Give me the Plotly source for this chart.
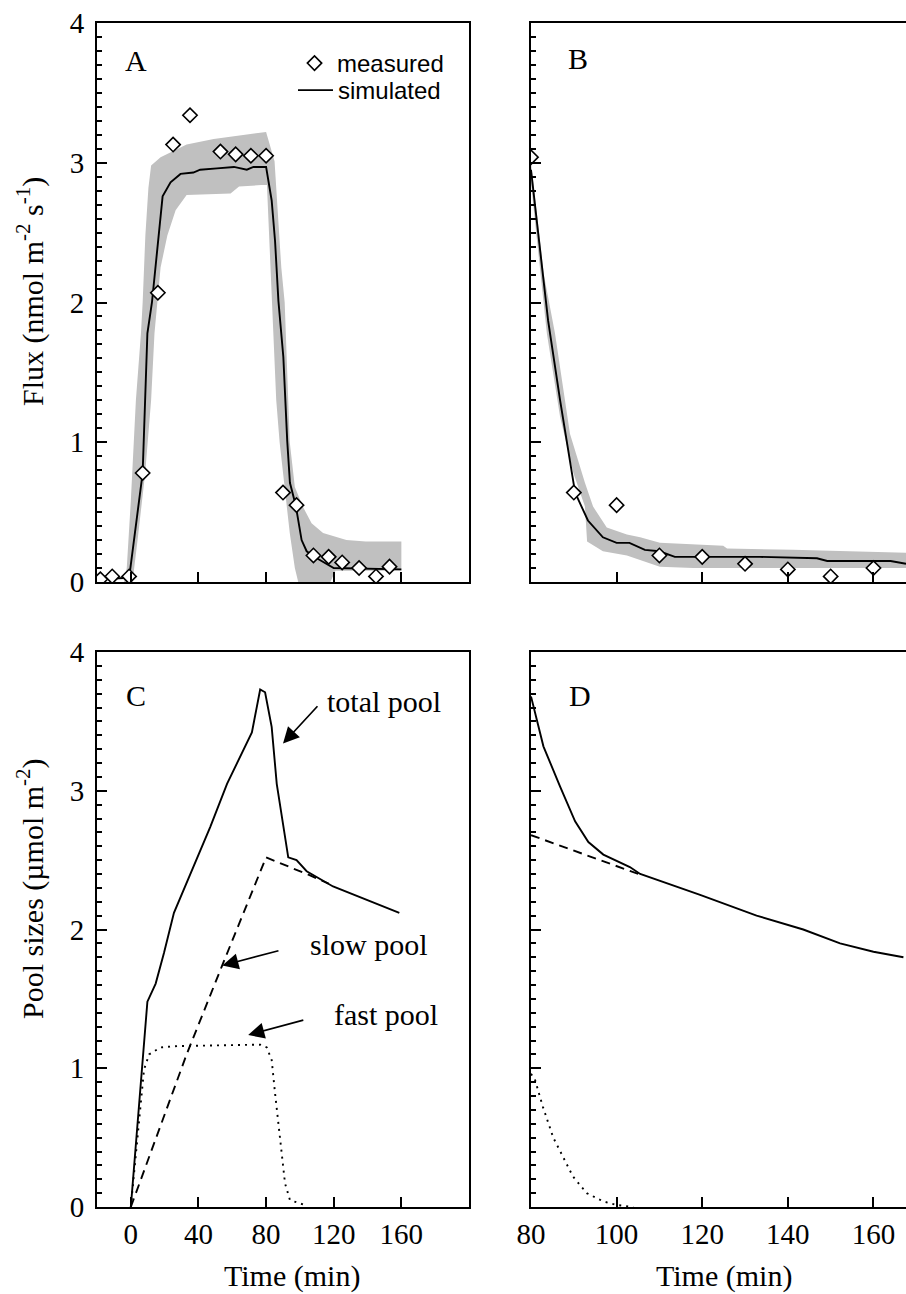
import plotly.graph_objects as go

# ---------------- Panel A: flux during and after labelling ----------------
meas_a_t = [-18, -11, -1, 7, 16, 25, 35, 53, 62, 71, 80, 90, 98, 108, 117, 125, 135, 145, 153]
meas_a_v = [0.02, 0.04, 0.04, 0.78, 2.07, 3.13, 3.34, 3.08, 3.06, 3.05, 3.05, 0.64, 0.55, 0.19, 0.18, 0.14, 0.10, 0.04, 0.11]

sim_a_t = [-20, -1, 7, 9.8, 12.5, 18.8, 23.5, 29.4, 37, 41, 51, 61, 68.6, 72.5, 80, 83.3, 85.3,
           87.3, 90.2, 92.5, 94.1, 97.5, 101, 104, 110, 120, 160]
sim_a_v = [0.02, 0.03, 0.78, 1.78, 2.0, 2.76, 2.86, 2.92, 2.93, 2.95, 2.96, 2.97, 2.95, 2.97, 2.97,
           2.73, 2.44, 2.01, 1.61, 1.01, 0.71, 0.55, 0.30, 0.22, 0.17, 0.10, 0.09]

band_a_up_t = [-4, -2.4, 0, 1.8, 3, 6, 7, 8.6, 10.4, 12, 17.6, 33, 49, 61, 80, 85, 86.3, 89, 91,
               93, 94, 97, 101.7, 106.9, 113.7, 127.5, 139, 160]
band_a_up_v = [0.0, 0.1, 0.58, 1.0, 1.3, 1.78, 2.0, 2.48, 2.82, 2.98, 3.04, 3.13, 3.17, 3.19, 3.22,
               3.01, 2.74, 2.25, 2.0, 1.3, 1.0, 0.68, 0.54, 0.42, 0.35, 0.30, 0.29, 0.29]
band_a_lo_t = [-4, 1, 4, 8.5, 12, 14, 15.5, 17.6, 21.6, 26.5, 33, 59, 64, 77, 80.5, 83.5, 86, 88,
               91, 94, 97, 99, 118, 121, 160]
band_a_lo_v = [0.0, 0.0, 0.3, 0.78, 1.3, 1.78, 2.0, 2.25, 2.48, 2.66, 2.77, 2.78, 2.83, 2.84, 2.84,
               2.0, 1.3, 1.0, 0.68, 0.35, 0.1, 0.0, 0.0, 0.08, 0.08]

# ---------------- Panel B: flux decline after labelling ----------------
meas_b_t = [80, 90, 100, 110, 120, 130, 140, 150, 160]
meas_b_v = [3.04, 0.64, 0.55, 0.19, 0.18, 0.13, 0.09, 0.04, 0.10]

sim_b_t = [80, 84, 86.8, 90.3, 93.3, 96.8, 100, 103, 106.6, 110, 113.6, 133.5, 146.8, 149.2, 164, 167.6]
sim_b_v = [2.95, 1.87, 1.30, 0.64, 0.44, 0.32, 0.28, 0.28, 0.23, 0.22, 0.18, 0.18, 0.17, 0.15, 0.15, 0.13]

band_b_up_t = [80, 83, 85.6, 89.1, 92.6, 94.5, 97.7, 102.4, 105.5, 110.1, 124.9, 125.8, 141.2, 167.6]
band_b_up_v = [3.0, 2.2, 1.78, 1.06, 0.71, 0.54, 0.39, 0.34, 0.32, 0.28, 0.26, 0.24, 0.23, 0.21]
band_b_lo_t = [80, 83.7, 86.8, 89.9, 92.6, 93.1, 96.8, 102.4, 107.1, 110.1, 117.9, 167.6]
band_b_lo_v = [2.85, 1.78, 1.18, 0.78, 0.54, 0.29, 0.22, 0.19, 0.14, 0.11, 0.10, 0.10]

# ---------------- Panel C: pool sizes ----------------
total_c_t = [0, 7.8, 9.8, 14.7, 19.6, 25.5, 30.4, 37.1, 47, 56.9, 64.7, 71.6, 76.5, 79.4, 83.3,
             86.3, 93.1, 98, 104, 119.6, 158.8]
total_c_v = [0, 1.23, 1.48, 1.61, 1.83, 2.12, 2.26, 2.45, 2.74, 3.05, 3.24, 3.42, 3.73, 3.71, 3.46,
             3.05, 2.52, 2.50, 2.42, 2.31, 2.12]
slow_c_t = [0, 33, 54, 80, 106, 117]
slow_c_v = [0, 1.10, 1.74, 2.52, 2.39, 2.33]
fast_c_t = [0, 7.8, 10.8, 17.6, 27.5, 76.5, 80.4, 83.3, 85.3, 88.2, 91.2, 94.1, 104]
fast_c_v = [0, 0.99, 1.10, 1.15, 1.16, 1.17, 1.15, 1.06, 0.82, 0.48, 0.17, 0.05, 0.01]

# ---------------- Panel D: pool sizes after labelling ----------------
total_d_t = [80, 82.9, 86.8, 90.3, 93.4, 96.9, 103.1, 105.5, 119.5, 132.7, 143.6, 152.2, 160, 167]
total_d_v = [3.68, 3.32, 3.03, 2.78, 2.63, 2.54, 2.45, 2.40, 2.25, 2.10, 2.00, 1.90, 1.84, 1.80]
slow_d_t = [80, 106]
slow_d_v = [2.68, 2.39]
fast_d_t = [80, 80.9, 82.8, 85.2, 87.5, 89.8, 93, 96.9, 100, 103.9]
fast_d_v = [0.96, 0.92, 0.72, 0.50, 0.36, 0.22, 0.10, 0.04, 0.015, 0.0]

xticks_left = [0, 40, 80, 120, 160]
xticks_right = [80, 100, 120, 140, 160]
yticks = [0, 1, 2, 3, 4]

SERIF = "Liberation Serif"
SANS = "Liberation Sans"
BAND = "#c0c0c0"
LW = 1.9

fig = go.Figure()


def band(up_t, up_v, lo_t, lo_v, xa, ya):
    fig.add_trace(go.Scatter(
        x=list(up_t) + list(lo_t)[::-1], y=list(up_v) + list(lo_v)[::-1],
        fill="toself", fillcolor=BAND, line=dict(width=0), mode="lines",
        hoverinfo="skip", showlegend=False, xaxis=xa, yaxis=ya))


def line(t, v, xa, ya, dash="solid", name=None, legend=None):
    fig.add_trace(go.Scatter(
        x=t, y=v, mode="lines", line=dict(color="black", width=LW, dash=dash),
        name=name, showlegend=legend is not None, legend=legend or "legend",
        xaxis=xa, yaxis=ya))


def diamonds(t, v, xa, ya, legend=None):
    fig.add_trace(go.Scatter(
        x=t, y=v, mode="markers", name="measured", showlegend=legend is not None,
        legend=legend or "legend",
        marker=dict(symbol="diamond", size=11, color="white",
                    line=dict(color="black", width=1.6)),
        xaxis=xa, yaxis=ya))


band(band_a_up_t, band_a_up_v, band_a_lo_t, band_a_lo_v, "x", "y")
line(sim_a_t, sim_a_v, "x", "y", name="simulated", legend="legend2")
diamonds(meas_a_t, meas_a_v, "x", "y", legend="legend")

band(band_b_up_t, band_b_up_v, band_b_lo_t, band_b_lo_v, "x2", "y2")
line(sim_b_t, sim_b_v, "x2", "y2")
diamonds(meas_b_t, meas_b_v, "x2", "y2")

line(total_c_t, total_c_v, "x3", "y3")
line(slow_c_t, slow_c_v, "x3", "y3", dash="9px,6px")
line(fast_c_t, fast_c_v, "x3", "y3", dash="2px,5px")

line(total_d_t, total_d_v, "x4", "y4")
line(slow_d_t, slow_d_v, "x4", "y4", dash="9px,6px")
line(fast_d_t, fast_d_v, "x4", "y4", dash="2px,5px")

W, H = 906, 1294
left_dom = [97 / W, 469 / W]
right_dom = [531 / W, 1.0]
top_dom = [1 - 582 / H, 1 - 23 / H]
bot_dom = [1 - 1207 / H, 1 - 652 / H]

tickfont = dict(family=SERIF, size=29, color="black")
base = dict(showline=True, linecolor="black", linewidth=2, ticks="inside", tickcolor="black",
            tickwidth=2, ticklen=10, showgrid=False, zeroline=False, tickfont=tickfont,
            automargin=False)
ybase = dict(base, range=[0, 4], tickvals=yticks, ticklabelstandoff=5,
             minor=dict(dtick=0.1, tick0=0, ticks="inside", ticklen=5, tickcolor="black",
                        tickwidth=1.5, showgrid=False))

legend_style = dict(xanchor="left", yanchor="top", bgcolor="rgba(0,0,0,0)",
                    font=dict(family=SANS, size=24, color="black"), itemwidth=35,
                    tracegroupgap=0)

fig.update_layout(
    width=W, height=H, margin=dict(l=0, r=0, t=0, b=0, autoexpand=False),
    paper_bgcolor="white", plot_bgcolor="white",
    xaxis=dict(base, domain=left_dom, range=[-20, 200], tickvals=xticks_left,
               showticklabels=False, mirror=True, anchor="y"),
    yaxis=dict(ybase, domain=top_dom, mirror=True, anchor="x"),
    xaxis2=dict(base, domain=right_dom, range=[80, 167.6], tickvals=xticks_right,
                showticklabels=False, mirror=True, anchor="y2"),
    yaxis2=dict(ybase, domain=top_dom, showticklabels=False, mirror=False, anchor="x2"),
    xaxis3=dict(base, domain=left_dom, range=[-20, 200], tickvals=xticks_left,
                mirror=True, anchor="y3"),
    yaxis3=dict(ybase, domain=bot_dom, mirror=True, anchor="x3"),
    xaxis4=dict(base, domain=right_dom, range=[80, 167.6], tickvals=xticks_right,
                mirror=True, anchor="y4"),
    yaxis4=dict(ybase, domain=bot_dom, showticklabels=False, mirror=False, anchor="x4"),
    legend=dict(legend_style, x=292 / W, y=1 - 41 / H),
    legend2=dict(legend_style, x=293 / W, y=1 - 68 / H),
)

ann = []
# panel letters
for letter, px, py in [("A", 136, 60), ("B", 578, 58), ("C", 136, 695), ("D", 580, 695)]:
    ann.append(dict(text=letter, x=px / W, y=1 - py / H, xref="paper", yref="paper",
                    showarrow=False, xanchor="center", yanchor="middle",
                    font=dict(family=SERIF, size=30, color="black")))

# axis titles
ann.append(dict(text="Flux (nmol m<sup>-2</sup> s<sup>-1</sup>)", x=30 / W, y=1 - 292 / H,
                xref="paper", yref="paper", textangle=-90, showarrow=False,
                xanchor="center", yanchor="middle", font=dict(family=SERIF, size=30, color="black")))
ann.append(dict(text="Pool sizes (µmol m<sup>-2</sup>)", x=30 / W, y=1 - 889 / H,
                xref="paper", yref="paper", textangle=-90, showarrow=False,
                xanchor="center", yanchor="middle", font=dict(family=SERIF, size=30, color="black")))
for cx in (292, 724):
    ann.append(dict(text="Time (min)", x=cx / W, y=1 - 1276 / H, xref="paper", yref="paper",
                    showarrow=False, xanchor="center", yanchor="middle",
                    font=dict(family=SERIF, size=30, color="black")))

# pool labels with arrows in panel C
pool_labels = [
    ("total pool", 114.7, 3.64, 90.0, 3.34, 111.2, 3.62),
    ("slow pool", 104.7, 1.89, 54.1, 1.74, 88.2, 1.85),
    ("fast pool", 118.8, 1.39, 69.4, 1.24, 102.9, 1.35),
]
for txt, tx, ty, hx, hy, sx, sy in pool_labels:
    ann.append(dict(text=txt, x=tx, y=ty, xref="x3", yref="y3", showarrow=False,
                    xanchor="left", yanchor="middle",
                    font=dict(family=SERIF, size=30, color="black")))
    ann.append(dict(text="", x=hx, y=hy, ax=sx, ay=sy, xref="x3", yref="y3",
                    axref="x3", ayref="y3", showarrow=True, arrowhead=2, arrowsize=1.9,
                    arrowwidth=1.7, arrowcolor="black", standoff=0, startstandoff=0))

fig.update_layout(annotations=ann)

fig.write_html("out.html")
